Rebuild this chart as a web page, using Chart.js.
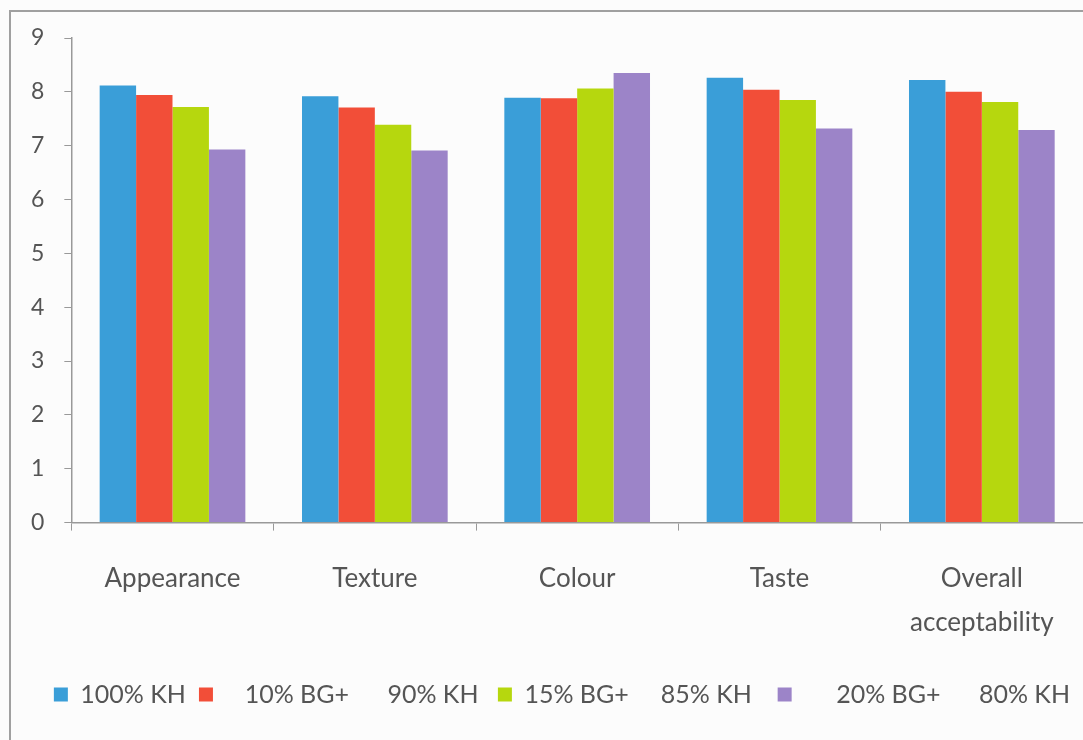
<!DOCTYPE html>
<html>
<head>
<meta charset="utf-8">
<script src="https://cdn.jsdelivr.net/npm/chart.js@4/dist/chart.umd.min.js"></script>
<style>
  body { margin: 0; background: #fcfcfc; }
  #moldura { position: absolute; left: 9px; top: 10px; width: 1100px; height: 740px; border: 2px solid #a0a0a0; }
  #caixa { position: absolute; left: 0; top: 0; width: 1083px; height: 740px; }
</style>
</head>
<body>
<div id="moldura"></div>
<div id="caixa"><canvas id="graficoBarras"></canvas></div>
<script>
var categorias = ["Appearance", "Texture", "Colour", "Taste", ["Overall", "acceptability"]];
var rotulosSeries = ["100% KH", "   10% BG+      90% KH ", "15% BG+     85% KH  ", "     20% BG+      80% KH"];
var serie100KH = [8.12, 7.92, 7.89, 8.26, 8.22];
var serie10BG = [7.94, 7.71, 7.88, 8.04, 8.00];
var serie15BG = [7.72, 7.39, 8.06, 7.85, 7.81];
var serie20BG = [6.93, 6.91, 8.35, 7.32, 7.29];
var coresSeries = ["#3a9ed8", "#f24e38", "#b6d70e", "#9c84c8"];

var textoCor = "#555555";
var fonte = "Lato, 'Open Sans', sans-serif";

var valores = [serie100KH, serie10BG, serie15BG, serie20BG];
var datasets = [];
for (var i = 0; i < valores.length; i++) {
  datasets.push({
    label: rotulosSeries[i],
    data: valores[i],
    backgroundColor: coresSeries[i],
    borderWidth: 0,
    categoryPercentage: 0.72,
    barPercentage: 1.0
  });
}

var contexto = graficoBarras.getContext("2d");
new Chart(contexto, {
  type: "bar",
  data: { labels: categorias, datasets: datasets },
  options: {
    responsive: true,
    maintainAspectRatio: false,
    animation: false,
    layout: { padding: { left: 11, right: 0, top: 38, bottom: 23 } },
    plugins: {
      tooltip: { enabled: false },
      legend: {
        position: "bottom",
        align: "end",
        labels: {
          color: textoCor,
          font: { family: fonte, size: 25 },
          boxWidth: 14,
          boxHeight: 14,
          padding: 13
        }
      }
    },
    scales: {
      y: {
        min: 0,
        max: 9,
        ticks: { stepSize: 1, color: textoCor, font: { family: fonte, size: 23 }, padding: 20 },
        grid: { drawOnChartArea: false, drawTicks: true, tickLength: 7, color: "#999999" },
        border: { color: "#999999", width: 1.5 }
      },
      x: {
        ticks: { color: textoCor, font: { family: fonte, size: 26, lineHeight: 1.7 }, padding: 26, maxRotation: 0 },
        grid: { drawOnChartArea: false, drawTicks: true, tickLength: 8, offset: true, color: "#999999" },
        border: { color: "#999999", width: 1.5 },
        afterFit: function (eixo) { eixo.height -= 2; }
      }
    }
  }
});
</script>
</body>
</html>
